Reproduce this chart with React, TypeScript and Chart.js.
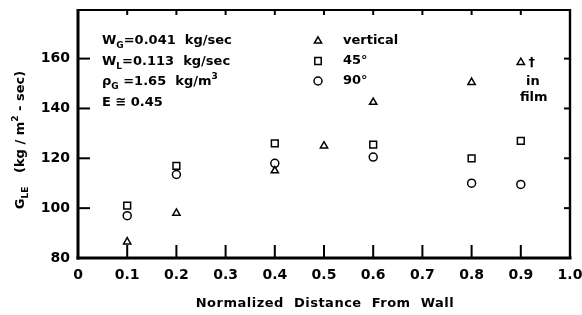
import React, { useEffect, useRef } from "react";
import { Chart, registerables } from "chart.js";
Chart.register(...registerables);

const verticalX = [0.1, 0.2, 0.4, 0.5, 0.6, 0.8, 0.9];
const verticalY = [86.5, 98, 115, 125, 142.5, 150.5, 158.5];
const deg45X = [0.1, 0.2, 0.4, 0.6, 0.8, 0.9];
const deg45Y = [101, 117, 126, 125.5, 120, 127];
const deg90X = [0.1, 0.2, 0.4, 0.6, 0.8, 0.9];
const deg90Y = [97, 113.5, 118, 120.5, 110, 109.5];
const xTickValues = [0.1, 0.2, 0.3, 0.4, 0.5, 0.6, 0.7, 0.8, 0.9];
const yTickValues = [100, 120, 140, 160];
const legendLabels = ["vertical", "45°", "90°"];

type Seg = { t: string; sub?: boolean; sup?: boolean };
const FONT = "'DejaVu Sans', 'Liberation Sans', sans-serif";

function drawRich(ctx: CanvasRenderingContext2D, segs: Seg[], x: number, y: number, size: number) {
  let cx = x;
  for (const s of segs) {
    const fs = s.sub || s.sup ? Math.round(size * 0.72) : size;
    ctx.font = `bold ${fs}px ${FONT}`;
    const dy = s.sub ? size * 0.35 : s.sup ? -size * 0.4 : 0;
    ctx.fillText(s.t, cx, y + dy);
    cx += ctx.measureText(s.t).width;
  }
  return cx - x;
}
function measureRich(ctx: CanvasRenderingContext2D, segs: Seg[], size: number) {
  let w = 0;
  for (const s of segs) {
    const fs = s.sub || s.sup ? Math.round(size * 0.72) : size;
    ctx.font = `bold ${fs}px ${FONT}`;
    w += ctx.measureText(s.t).width;
  }
  return w;
}

function marker(ctx: CanvasRenderingContext2D, kind: string, x: number, y: number) {
  ctx.beginPath();
  if (kind === "tri") {
    const r = 4.2;
    ctx.moveTo(x, y - r);
    ctx.lineTo(x + r * 0.866, y + r * 0.5);
    ctx.lineTo(x - r * 0.866, y + r * 0.5);
    ctx.closePath();
  } else if (kind === "rect") {
    ctx.rect(x - 3.2, y - 3.6, 6.4, 7.2);
  } else {
    ctx.arc(x, y, 4, 0, Math.PI * 2);
  }
  ctx.stroke();
}

const decor = {
  id: "decor",
  afterDraw(chart: any) {
    const ctx: CanvasRenderingContext2D = chart.ctx;
    const xs = chart.scales.x;
    const ys = chart.scales.y;
    const left = xs.left;
    const right = xs.right;
    const top = ys.top;
    const bottom = ys.bottom;
    ctx.save();
    ctx.setLineDash([]);
    ctx.globalAlpha = 1;
    ctx.strokeStyle = "#000";
    ctx.fillStyle = "#000";
    // frame
    ctx.fillRect(left - 1.5, top - 1, 3, bottom - top + 2.5);
    ctx.fillRect(left - 1.5, bottom - 1.5, right - left + 3, 3);
    ctx.fillRect(left - 1, top - 1, right - left + 2, 2);
    ctx.fillRect(right - 1.2, top - 1, 2.4, bottom - top + 2);
    // ticks
    for (const v of xTickValues) {
      const px = xs.getPixelForValue(v);
      ctx.fillRect(px - 1, bottom - 13, 2, 13);
      ctx.fillRect(px - 1, top, 2, 5);
    }
    for (const v of yTickValues) {
      const py = ys.getPixelForValue(v);
      ctx.fillRect(left, py - 1, 12, 2);
      ctx.fillRect(right - 6, py - 1, 6, 2);
    }
    // x title
    ctx.textBaseline = "middle";
    ctx.textAlign = "center";
    ctx.font = `bold 13px ${FONT}`;
    (ctx as any).letterSpacing = "0.5px";
    ctx.fillText("Normalized  Distance  From  Wall", 325, 304);
    (ctx as any).letterSpacing = "0px";
    // y title
    ctx.save();
    ctx.translate(21, 140);
    ctx.rotate(-Math.PI / 2);
    ctx.textAlign = "left";
    const ySegs: Seg[] = [
      { t: "G" },
      { t: "LE", sub: true },
      { t: "   (kg / m" },
      { t: "2", sup: true },
      { t: " - sec)" },
    ];
    const yw = measureRich(ctx, ySegs, 13);
    drawRich(ctx, ySegs, -yw / 2, 0, 13);
    ctx.restore();
    // parameter block
    ctx.textAlign = "left";
    const lines: Seg[][] = [
      [{ t: "W" }, { t: "G", sub: true }, { t: "=0.041  kg/sec" }],
      [{ t: "W" }, { t: "L", sub: true }, { t: "=0.113  kg/sec" }],
      [{ t: "ρ" }, { t: "G", sub: true }, { t: " =1.65  kg/m" }, { t: "3", sup: true }],
      [{ t: "E ≅ 0.45" }],
    ];
    const ly = [41, 62, 82, 103];
    lines.forEach((l, i) => drawRich(ctx, l, 102, ly[i], 13));
    // legend
    const kinds = ["tri", "rect", "circ"];
    ctx.lineWidth = 1.5;
    legendLabels.forEach((lab, i) => {
      const y = 41 + i * 20;
      marker(ctx, kinds[i], 318, y);
      ctx.font = `bold 13px ${FONT}`;
      ctx.fillText(lab, 343, y);
    });
    // in film annotation
    const px = xs.getPixelForValue(0.9);
    const py = ys.getPixelForValue(158.5);
    ctx.font = `bold 13px ${FONT}`;
    ctx.textAlign = "center";
    ctx.fillText("†", px + 11, py);
    ctx.fillText("in", px + 12, py + 19);
    ctx.fillText("film", px + 13, py + 35);
    ctx.restore();
  },
};

export default function App() {
  const ref = useRef<HTMLCanvasElement>(null);
  useEffect(() => {
    const toPts = (xs: number[], ys: number[]) => xs.map((x, i) => ({ x, y: ys[i] }));
    const common = {
      borderColor: "#000",
      backgroundColor: "rgba(0,0,0,0)",
      pointBorderWidth: 1.5,
      showLine: false,
    };
    const chart = new Chart(ref.current!, {
      type: "scatter",
      data: {
        datasets: [
          { ...common, label: "vertical", data: toPts(verticalX, verticalY), pointStyle: "triangle", pointRadius: 4.2 },
          { ...common, label: "45°", data: toPts(deg45X, deg45Y), pointStyle: "rect", pointRadius: 4.8 },
          { ...common, label: "90°", data: toPts(deg90X, deg90Y), pointStyle: "circle", pointRadius: 4 },
        ],
      },
      options: {
        animation: false,
        responsive: false,
        maintainAspectRatio: false,
        layout: { padding: { left: 0, top: 10, right: 12, bottom: 0 } },
        plugins: { legend: { display: false }, tooltip: { enabled: false } },
        scales: {
          x: {
            type: "linear",
            min: 0,
            max: 1,
            grid: { display: false, drawTicks: false },
            border: { display: false },
            ticks: {
              stepSize: 0.1,
              padding: 9,
              color: "#000",
              font: { family: FONT, size: 14, weight: "bold" },
              maxRotation: 0,
              autoSkip: false,
              callback: (v: any) => {
                const n = Number(v);
                if (Math.abs(n) < 1e-9) return "0";
                return n.toFixed(1);
              },
            },
            afterFit: (s: any) => {
              s.height = 57;
              s.paddingLeft = 0;
              s.paddingRight = 0;
            },
          },
          y: {
            type: "linear",
            min: 80,
            max: 179.5,
            grid: { display: false, drawTicks: false },
            border: { display: false },
            ticks: {
              stepSize: 20,
              padding: 8,
              color: "#000",
              font: { family: FONT, size: 14, weight: "bold" },
              includeBounds: false,
              callback: (v: any) => (Number(v) > 170 ? "" : String(v)),
            },
            afterFit: (s: any) => {
              s.width = 78;
              s.paddingTop = 0;
              s.paddingBottom = 0;
            },
          },
        },
      },
      plugins: [decor],
    } as any);
    return () => chart.destroy();
  }, []);
  return (
    <div style={{ position: "fixed", left: 0, top: 0, width: 582, height: 315, background: "#fff" }}>
      <canvas ref={ref} width={582} height={315} style={{ width: 582, height: 315 }} />
    </div>
  );
}
